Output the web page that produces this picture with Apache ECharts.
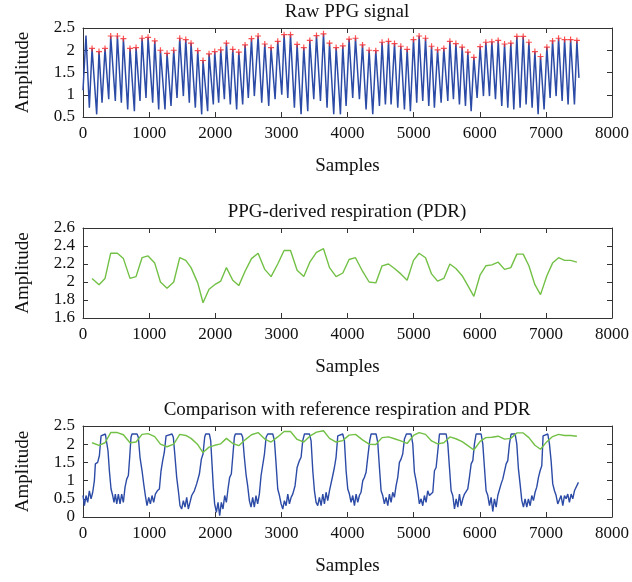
<!DOCTYPE html>
<html><head><meta charset="utf-8">
<script src="https://cdn.jsdelivr.net/npm/echarts@6/dist/echarts.min.js"></script>
<style>html,body{margin:0;padding:0;background:#fff}#c{width:632px;height:582px}</style>
</head><body><div id="c"></div>
<script>
// ---------- data ----------
const panelTitles = ['Raw PPG signal', 'PPG-derived respiration (PDR)', 'Comparison with reference respiration and PDR'];
const xLabel = 'Samples';
const yLabel = 'Amplitude';
const xRange = [0, 8000, 1000];
const yRanges = [[0.5, 2.5, 0.5], [1.6, 2.6, 0.2], [0, 2.5, 0.5]];

// detected PPG peaks (sample index) and their amplitudes (= PDR)
const peakSamples = [137,242,333,419,520,611,711,802,893,984,1085,1171,1271,1372,1463,1554,1634,1735,1815,1906,1992,2083,2169,2265,2356,2451,2548,2648,2749,2844,2945,3041,3138,3238,3339,3430,3531,3637,3728,3828,3929,4024,4121,4227,4327,4428,4523,4620,4711,4806,4902,4998,5083,5180,5271,5362,5457,5548,5639,5734,5820,5911,6006,6092,6183,6279,6375,6470,6561,6657,6743,6834,6919,7015,7101,7192,7283,7374,7469];
const pdrValues = [2.04,1.97,2.04,2.32,2.32,2.26,2.04,2.06,2.27,2.29,2.21,2.00,1.93,2.00,2.27,2.24,2.16,1.99,1.77,1.92,1.97,2.01,2.16,2.02,1.96,2.12,2.26,2.32,2.14,2.06,2.20,2.35,2.35,2.13,2.06,2.22,2.33,2.37,2.16,2.06,2.10,2.25,2.27,2.12,2.00,1.99,2.18,2.20,2.15,2.09,2.02,2.24,2.32,2.27,2.09,2.01,2.04,2.20,2.15,2.07,1.96,1.84,2.08,2.18,2.19,2.22,2.14,2.16,2.31,2.31,2.18,1.97,1.86,2.07,2.21,2.27,2.24,2.24,2.22];

// raw PPG troughs (one before each detected peak)
const troughSamples = [96,207,288,389,489,580,676,777,862,953,1054,1145,1240,1331,1422,1518,1608,1699,1795,1885,1971,2052,2138,2228,2324,2415,2500,2591,2703,2809,2905,3006,3097,3197,3298,3399,3490,3591,3691,3792,3893,3979,4079,4180,4281,4382,4483,4573,4659,4760,4861,4951,5047,5138,5229,5314,5416,5517,5602,5693,5784,5870,5960,6056,6147,6238,6333,6424,6515,6610,6701,6792,6883,6973,7064,7155,7246,7336,7432];
const troughValues = [0.71,0.56,0.82,0.90,0.86,0.82,0.67,0.63,0.86,0.93,0.82,0.67,0.67,0.75,0.93,0.97,0.82,0.71,0.56,0.63,0.78,0.82,0.90,0.78,0.67,0.78,0.93,0.97,0.82,0.75,0.90,1.00,0.93,0.71,0.56,0.63,0.90,0.86,0.71,0.56,0.56,0.75,0.93,0.90,0.67,0.56,0.75,0.78,0.78,0.71,0.67,0.63,0.82,0.86,0.75,0.71,0.82,0.86,0.90,0.78,0.75,0.63,0.93,0.97,0.97,0.90,0.75,0.71,0.67,0.71,0.78,0.71,0.56,0.67,0.93,0.97,0.86,0.78,0.78];
const rawHead = [[0, 1.10], [45, 2.33]];
const rawTail = [[7500, 1.38]];

// reference respiration
const refSamples = [0,21,46,71,96,122,147,172,187,222,248,273,288,338,358,378,399,424,449,469,489,510,535,560,585,610,636,661,686,706,726,741,817,837,862,893,918,943,968,994,1019,1044,1069,1094,1124,1155,1180,1205,1230,1256,1271,1346,1366,1392,1417,1442,1467,1492,1518,1543,1568,1593,1618,1644,1684,1719,1760,1790,1815,1840,1855,1911,1931,1951,1971,1991,2017,2042,2067,2092,2117,2143,2168,2193,2218,2243,2268,2289,2304,2395,2415,2440,2465,2490,2516,2541,2566,2591,2616,2641,2667,2693,2719,2744,2769,2794,2870,2895,2920,2945,2971,2996,3021,3046,3071,3097,3122,3147,3172,3207,3238,3273,3298,3323,3349,3424,3449,3475,3500,3525,3550,3575,3601,3626,3651,3676,3701,3727,3752,3777,3802,3827,3853,3868,3928,3953,3979,4004,4029,4054,4079,4105,4130,4155,4180,4205,4231,4256,4281,4306,4336,4357,4432,4457,4483,4508,4533,4558,4583,4609,4634,4659,4684,4709,4735,4760,4785,4810,4835,4861,4891,4961,4987,5012,5037,5062,5087,5113,5138,5163,5188,5213,5239,5290,5315,5340,5366,5391,5492,5517,5542,5567,5592,5618,5643,5668,5693,5718,5744,5769,5794,5819,5844,5870,5895,5920,5945,6021,6046,6071,6096,6122,6147,6172,6197,6222,6248,6273,6298,6323,6348,6374,6399,6424,6449,6474,6535,6560,6585,6610,6636,6661,6686,6711,6736,6762,6787,6812,6837,6862,6888,6913,6938,6958,6973,7029,7054,7079,7104,7130,7155,7180,7205,7230,7256,7281,7306,7331,7356,7382,7407,7432,7457,7492];
const refValues = [0.59,0.31,0.59,0.40,0.72,0.50,0.68,1.00,1.46,1.50,1.69,2.23,2.28,2.28,2.23,1.82,1.27,0.77,0.59,0.40,0.63,0.36,0.63,0.36,0.63,0.40,0.82,1.04,1.14,1.64,2.19,2.28,2.28,2.19,1.64,1.27,0.91,0.59,0.31,0.54,0.36,0.59,0.40,0.63,0.72,0.77,1.27,1.55,1.78,2.23,2.28,2.28,2.19,1.64,1.09,0.72,0.31,0.22,0.45,0.27,0.54,0.22,0.40,0.59,0.72,0.91,1.18,1.59,1.73,2.19,2.28,2.28,2.10,1.46,0.82,0.36,0.13,0.40,0.04,0.40,0.22,0.59,0.40,0.77,1.09,1.18,1.73,2.19,2.28,2.28,2.19,1.64,1.18,0.86,0.45,0.27,0.54,0.27,0.59,0.36,0.63,1.14,1.18,1.73,2.19,2.28,2.28,2.10,1.46,0.77,0.59,0.36,0.22,0.45,0.31,0.63,0.36,0.54,0.63,0.86,1.36,1.55,1.64,2.10,2.28,2.28,2.10,1.27,0.72,0.40,0.31,0.54,0.31,0.63,0.36,0.68,0.45,0.72,0.77,1.14,1.36,1.64,2.23,2.28,2.28,2.10,1.27,0.77,0.63,0.40,0.59,0.31,0.63,0.40,0.59,0.68,1.00,1.09,1.23,1.64,2.10,2.28,2.28,2.06,1.36,0.72,0.59,0.36,0.54,0.31,0.63,0.40,0.68,0.54,0.86,1.09,1.50,1.59,1.73,2.14,2.28,2.28,2.01,1.23,1.00,0.72,0.36,0.50,0.31,0.59,0.40,0.72,0.59,0.68,1.27,1.36,1.82,2.28,2.28,2.01,1.36,0.72,0.59,0.22,0.50,0.27,0.63,0.31,0.50,0.63,0.59,0.77,1.09,1.46,1.55,2.01,2.28,2.28,2.01,1.36,0.72,0.59,0.31,0.54,0.15,0.50,0.27,0.59,0.59,0.91,1.04,1.09,1.46,1.55,2.01,2.28,2.28,2.01,1.32,0.91,0.45,0.27,0.50,0.27,0.50,0.31,0.59,0.45,0.68,0.82,1.09,1.27,1.41,2.23,2.28,2.28,2.01,1.55,0.91,0.72,0.59,0.36,0.31,0.59,0.31,0.59,0.50,0.63,0.40,0.63,0.50,0.72,0.68,0.95];

// ---------- build ----------
const zip = (a, b) => a.map((v, i) => [v, b[i]]);
const raw = rawHead.slice();
for (let i = 0; i < peakSamples.length; i++) {
  raw.push([troughSamples[i], troughValues[i]]);
  raw.push([peakSamples[i], pdrValues[i]]);
}
rawTail.forEach(p => raw.push(p));
const pdr = zip(peakSamples, pdrValues);
const ref = zip(refSamples, refValues);

const FONT = '"Liberation Serif", "DejaVu Serif", serif';
const AX = '#333';
const BLUE = '#2c4ba6';
const GREEN = '#72c045';
const RED = '#ff2626';

const grids = [
  {left: 83, right: 20, top: 28, height: 89},
  {left: 83, right: 20, top: 228, height: 90},
  {left: 83, right: 20, top: 426, height: 91}
];

const xAxes = [], yAxes = [];
grids.forEach((g, gi) => {
  const base = {
    gridIndex: gi, type: 'value', min: xRange[0], max: xRange[1], interval: xRange[2],
    axisLine: {show: true, onZero: false, lineStyle: {color: AX, width: 1}},
    axisTick: {show: true, inside: true, length: 5, lineStyle: {color: AX}},
    splitLine: {show: false}
  };
  xAxes.push(Object.assign({}, base, {
    position: 'bottom',
    axisLabel: {fontFamily: FONT, fontSize: 17, color: '#111', margin: 8, formatter: v => String(v)},
    name: xLabel, nameLocation: 'middle', nameGap: 40,
    nameTextStyle: {fontFamily: FONT, fontSize: 19, color: '#111'}
  }));
  xAxes.push(Object.assign({}, base, {position: 'top', axisLabel: {show: false}}));
  const yr = yRanges[gi];
  const ybase = {
    gridIndex: gi, type: 'value', min: yr[0], max: yr[1], interval: yr[2],
    axisLine: {show: true, onZero: false, lineStyle: {color: AX, width: 1}},
    axisTick: {show: true, inside: true, length: 5, lineStyle: {color: AX}},
    splitLine: {show: false}
  };
  yAxes.push(Object.assign({}, ybase, {
    position: 'left',
    axisLabel: {fontFamily: FONT, fontSize: 17, color: '#111', margin: 8},
    name: yLabel, nameLocation: 'middle', nameGap: 50, nameRotate: 90,
    nameTextStyle: {fontFamily: FONT, fontSize: 19, color: '#111'}
  }));
  yAxes.push(Object.assign({}, ybase, {position: 'right', axisLabel: {show: false}}));
});

const titleY = [12, 212, 410];
const graphic = panelTitles.map((t, i) => ({
  type: 'text', x: 347, y: titleY[i],
  style: {text: t, textAlign: 'center', textVerticalAlign: 'middle', font: '19px ' + FONT, fill: '#111'}
}));

const chart = echarts.init(document.getElementById('c'), null, {renderer: 'canvas'});
chart.setOption({
  animation: false,
  backgroundColor: '#fff',
  grid: grids,
  xAxis: xAxes,
  yAxis: yAxes,
  graphic: graphic,
  series: [
    {type: 'line', xAxisIndex: 0, yAxisIndex: 0, data: raw, showSymbol: false, lineStyle: {color: BLUE, width: 1.5}, z: 2},
    {type: 'scatter', xAxisIndex: 0, yAxisIndex: 0, data: pdr,
      symbol: 'path://M4,0H6V4H10V6H6V10H4V6H0V4H4Z', symbolSize: 6, itemStyle: {color: RED}, z: 3},
    {type: 'line', xAxisIndex: 2, yAxisIndex: 2, data: pdr, showSymbol: false, lineStyle: {color: GREEN, width: 1.4}},
    {type: 'line', xAxisIndex: 4, yAxisIndex: 4, data: ref, showSymbol: false, lineStyle: {color: BLUE, width: 1.4}, z: 2},
    {type: 'line', xAxisIndex: 4, yAxisIndex: 4, data: pdr, showSymbol: false, lineStyle: {color: GREEN, width: 1.4}, z: 3}
  ]
});
</script></body></html>
